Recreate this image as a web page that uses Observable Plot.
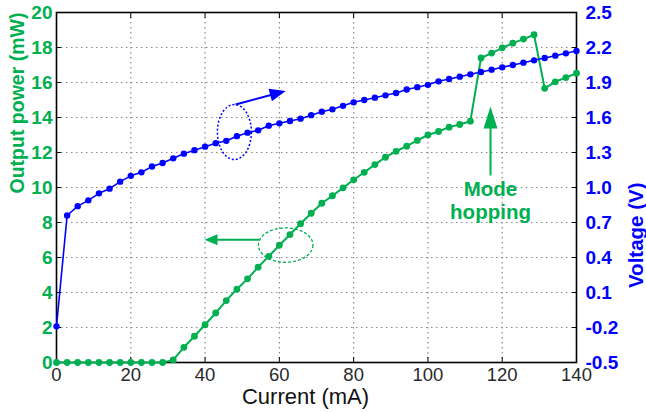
<!DOCTYPE html>
<html>
<head>
<meta charset="utf-8">
<script src="https://cdn.jsdelivr.net/npm/d3@7"></script>
<script src="https://cdn.jsdelivr.net/npm/@observablehq/plot@0.6"></script>
<style>
  html, body { margin: 0; padding: 0; background: #fff; }
  svg { display: block; }
</style>
</head>
<body>
<div id="chart"></div>
<script>
// ---- Data ----
const current = [0, 2.86, 5.71, 8.57, 11.43, 14.29, 17.14, 20, 22.86, 25.71,
  28.57, 31.43, 34.29, 37.14, 40, 42.86, 45.71, 48.57, 51.43, 54.29,
  57.14, 60, 62.86, 65.71, 68.57, 71.43, 74.29, 77.14, 80, 82.86,
  85.71, 88.57, 91.43, 94.29, 97.14, 100, 102.86, 105.71, 108.57, 111.43,
  114.29, 117.14, 120, 122.86, 125.71, 128.57, 131.43, 134.29, 137.14, 140];

const outputPower = [0, 0, 0, 0, 0, 0, 0, 0, 0, 0,
  0, 0.15, 0.87, 1.5, 2.16, 2.83, 3.54, 4.19, 4.78, 5.45,
  6.07, 6.70, 7.31, 7.93, 8.53, 9.10, 9.53, 9.98, 10.44, 10.87,
  11.31, 11.73, 12.07, 12.36, 12.69, 13.0, 13.2, 13.45, 13.6, 13.79,
  17.4, 17.68, 17.98, 18.25, 18.48, 18.73, 15.67, 16.04, 16.28, 16.53];

const voltage = [-0.19, 0.76, 0.84, 0.89, 0.95, 0.99, 1.05, 1.10, 1.13, 1.18,
  1.21, 1.25, 1.29, 1.32, 1.35, 1.38, 1.40, 1.44, 1.47, 1.49,
  1.53, 1.55, 1.57, 1.59, 1.62, 1.65, 1.67, 1.70, 1.73, 1.75,
  1.77, 1.79, 1.81, 1.84, 1.86, 1.88, 1.91, 1.93, 1.95, 1.97,
  1.99, 2.01, 2.03, 2.05, 2.07, 2.09, 2.11, 2.13, 2.15, 2.17];

const currentTicks = [0, 20, 40, 60, 80, 100, 120, 140];
const powerTicks = [0, 2, 4, 6, 8, 10, 12, 14, 16, 18, 20];
const voltageTicks = ["-0.5", "-0.2", "0.1", "0.4", "0.7", "1.0", "1.3", "1.6", "1.9", "2.2", "2.5"];

// annotations (data units: mA, mW)
const ellipses = [
  {x: 47.9, y: 13.17, rx: 17, ry: 27.5, color: "blue"},
  {x: 61.7, y: 6.71, rx: 27.3, ry: 17.2, color: "green"}
];
const arrowShafts = [
  {x1: 48.2, y1: 14.74, x2: 59.0, y2: 15.36, color: "blue"},
  {x1: 54.7, y1: 7.01, x2: 42.5, y2: 7.01, color: "green"},
  {x1: 116.85, y1: 10.69, x2: 116.85, y2: 13.6, color: "green"}
];
const arrowHeads = [
  {x: 61.7, y: 15.52, angle: 75, color: "blue"},
  {x: 39.85, y: 7.01, angle: -90, color: "green"},
  {x: 116.85, y: 14.63, angle: 0, color: "green"}
];
const modeLabel = [{x: 116.85, y: 9.29, text: "Mode\nhopping"}];

// ---- helpers ----
const GREEN = "#00b050";
const BLUE = "#0000ff";
const colorOf = c => c === "blue" ? BLUE : GREEN;
// right axis (voltage, -0.5..2.5) mapped onto left scale (power, 0..20)
const vToP = v => (v + 0.5) / 0.15;

const rows = current.map((c, i) => ({current: c, power: outputPower[i], voltage: voltage[i]}));

function ellipseSymbol(rx, ry) {
  return {draw(ctx) {
    const k = 0.5523;
    ctx.moveTo(rx, 0);
    ctx.bezierCurveTo(rx, ry * k, rx * k, ry, 0, ry);
    ctx.bezierCurveTo(-rx * k, ry, -rx, ry * k, -rx, 0);
    ctx.bezierCurveTo(-rx, -ry * k, -rx * k, -ry, 0, -ry);
    ctx.bezierCurveTo(rx * k, -ry, rx, -ry * k, rx, 0);
    ctx.closePath();
  }};
}
function headSymbol(w, L) {
  return {draw(ctx) {
    ctx.moveTo(0, 0);
    ctx.lineTo(-w / 2, L);
    ctx.lineTo(w / 2, L);
    ctx.closePath();
  }};
}

const font = "'Liberation Sans', Arial, Helvetica, sans-serif";

const chart = Plot.plot({
  width: 646,
  height: 412,
  marginLeft: 56,
  marginRight: 70,
  marginTop: 12,
  marginBottom: 50,
  style: {fontFamily: font, background: "#fff", overflow: "visible"},
  x: {domain: [0, 140]},
  y: {domain: [0, 20]},
  marks: [
    Plot.gridX(currentTicks, {stroke: "#8a8a8a", strokeOpacity: 1, strokeDasharray: "1.5,3.5", strokeWidth: 1.2}),
    Plot.gridY(powerTicks, {stroke: "#8a8a8a", strokeOpacity: 1, strokeDasharray: "1.5,3.5", strokeWidth: 1.2}),
    // bottom axis
    Plot.axisX({anchor: "bottom", ticks: currentTicks, tickSize: -5, tickPadding: 10, fontSize: 18.5, fill: "#2a2a2a", stroke: "#000", label: null}),
    Plot.axisX({anchor: "top", ticks: currentTicks, tickSize: -5, tickFormat: () => "", label: null, stroke: "#000"}),
    // left axis (power)
    Plot.axisY({anchor: "left", ticks: powerTicks, tickSize: -5, tickPadding: 9, fontSize: 19, fontWeight: "bold", fill: GREEN, stroke: "#000", label: null}),
    // right axis (voltage)
    Plot.axisY({anchor: "right", ticks: voltageTicks.map(s => vToP(+s)), tickSize: -5, tickPadding: 14,
      tickFormat: (d, i) => voltageTicks[i], fontSize: 19, fontWeight: "bold", fill: BLUE, stroke: "#000", label: null}),
    Plot.frame({stroke: "#000", strokeWidth: 1.6}),
    // series
    Plot.line(rows, {x: "current", y: "power", stroke: GREEN, strokeWidth: 2}),
    Plot.dot(rows, {x: "current", y: "power", r: 3.4, fill: GREEN}),
    Plot.line(rows, {x: "current", y: d => vToP(d.voltage), stroke: BLUE, strokeWidth: 1.6}),
    Plot.dot(rows, {x: "current", y: d => vToP(d.voltage), r: 3.2, fill: BLUE}),
    // annotations
    Plot.dot([ellipses[0]], {x: "x", y: "y", symbol: ellipseSymbol(ellipses[0].rx, ellipses[0].ry), fill: "none", stroke: BLUE, strokeWidth: 1.5, strokeDasharray: "2,2"}),
    Plot.dot([ellipses[1]], {x: "x", y: "y", symbol: ellipseSymbol(ellipses[1].rx, ellipses[1].ry), fill: "none", stroke: GREEN, strokeWidth: 1.3, strokeDasharray: "3,2"}),
    Plot.link(arrowShafts, {x1: "x1", y1: "y1", x2: "x2", y2: "y2", stroke: d => colorOf(d.color), strokeWidth: 2}),
    Plot.dot([arrowHeads[0]], {x: "x", y: "y", symbol: headSymbol(13, 16), rotate: "angle", fill: BLUE, stroke: "none"}),
    Plot.dot([arrowHeads[1]], {x: "x", y: "y", symbol: headSymbol(11, 13), rotate: "angle", fill: GREEN, stroke: "none"}),
    Plot.dot([arrowHeads[2]], {x: "x", y: "y", symbol: headSymbol(14, 22), rotate: "angle", fill: GREEN, stroke: "none"}),
    Plot.text(modeLabel, {x: "x", y: "y", text: "text", fill: GREEN, fontSize: 20.5, fontWeight: "bold", lineHeight: 1.12}),
    // axis titles
    Plot.text(["Output power (mW)"], {frameAnchor: "left", dx: -39, dy: 6, rotate: -90, fill: GREEN, fontSize: 19.5, fontWeight: "bold"}),
    Plot.text(["Voltage (V)"], {frameAnchor: "right", dx: 60, dy: -5, rotate: -90, fill: BLUE, fontSize: 20.5, fontWeight: "bold"}),
    Plot.text(["Current (mA)"], {frameAnchor: "bottom", dx: -11, dy: 41, fill: "#111", fontSize: 22})
  ]
});

document.getElementById("chart").appendChild(chart);
</script>
</body>
</html>
